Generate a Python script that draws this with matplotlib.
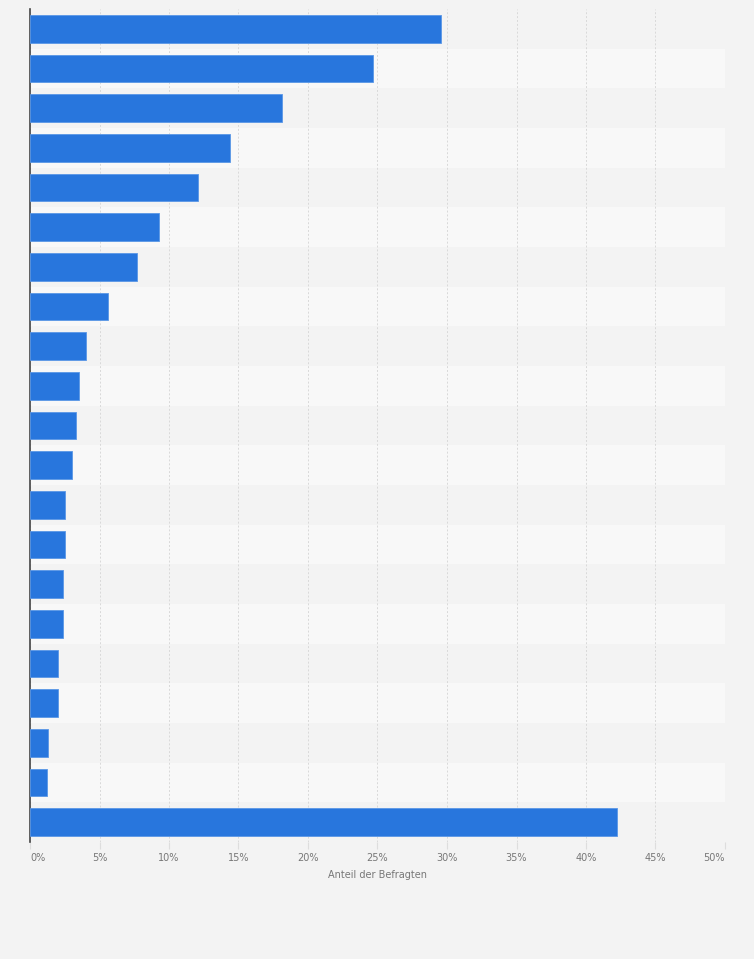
import numpy as np
import matplotlib
matplotlib.use("Agg")
import matplotlib.pyplot as plt

# Werte (Anteil der Befragten in %), von oben nach unten
werte = [29.6, 24.7, 18.1, 14.4, 12.1, 9.3, 7.7, 5.6, 4.0, 3.5, 3.3,
         3.0, 2.55, 2.5, 2.4, 2.4, 2.0, 2.0, 1.3, 1.2, 42.2]
kategorien = [""] * len(werte)
x_ticks = [0, 5, 10, 15, 20, 25, 30, 35, 40, 45, 50]
x_labels = [f"{t}%" for t in x_ticks]

bg = "#f3f3f3"
fig = plt.figure(figsize=(7.54, 9.59), dpi=100, facecolor=bg)
ax = fig.add_axes([30 / 754, 1 - 842 / 959, 695 / 754, 833 / 959])
ax.set_facecolor(bg)

n = len(werte)
y = np.arange(n)

# abwechselnde Zeilenstreifen
for i in range(n):
    col = "#f3f3f3" if i % 2 == 0 else "#f8f8f8"
    ax.axhspan(i - 0.5, i + 0.5, color=col, zorder=0, lw=0)

ax.barh(y, werte, height=0.7, color="#2876dd", edgecolor="#5a97e6",
        linewidth=0.6, zorder=3)

ax.set_ylim(n - 0.5, -0.5)
ax.set_xlim(0, 50)
ax.set_yticks(y)
ax.set_yticklabels(kategorien)
ax.tick_params(axis="y", length=0)

ax.set_xticks(x_ticks)
ax.set_xticklabels(x_labels, fontsize=7, color="#777777")
ax.tick_params(axis="x", length=5, color="#dddddd", width=0.8, pad=3)
lbls = ax.get_xticklabels()
lbls[0].set_ha("left")
lbls[-1].set_ha("right")

ax.grid(axis="x", color="#d9d9d9", linestyle=(0, (2, 2)), linewidth=0.7, zorder=1)
ax.set_axisbelow(True)

for s in ["top", "right", "bottom"]:
    ax.spines[s].set_visible(False)
ax.spines["left"].set_color("#444444")
ax.spines["left"].set_linewidth(1.2)

ax.set_xlabel("Anteil der Befragten", fontsize=7, color="#777777", labelpad=5)

fig.savefig("out.png", dpi=100, facecolor=bg)
